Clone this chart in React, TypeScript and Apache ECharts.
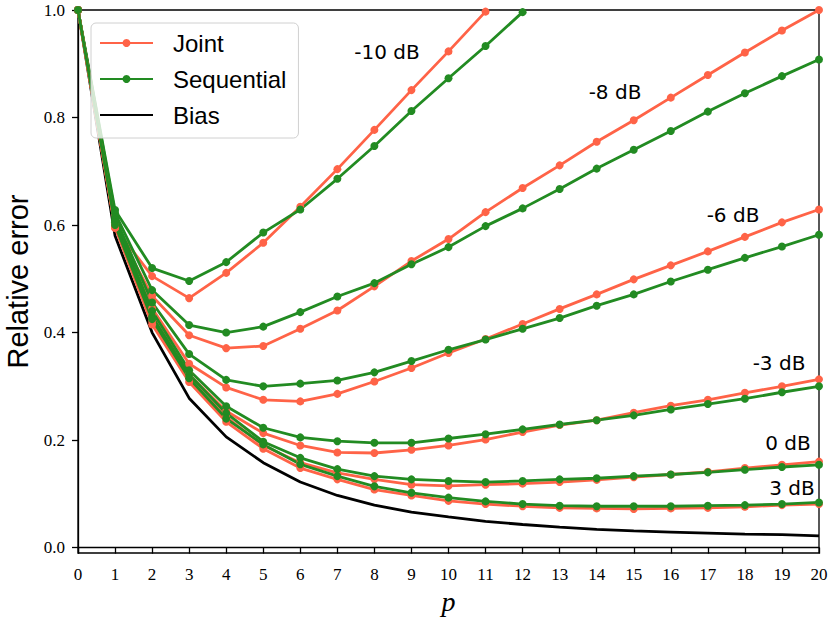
import React, { useEffect, useRef } from "react";
import * as echarts from "echarts";

const P = [0, 1, 2, 3, 4, 5, 6, 7, 8, 9, 10, 11, 12, 13, 14, 15, 16, 17, 18, 19, 20];

const bias = [1.0, 0.58, 0.40, 0.278, 0.206, 0.158, 0.122, 0.097, 0.079, 0.066, 0.057, 0.049, 0.043, 0.038, 0.034, 0.031, 0.029, 0.027, 0.025, 0.024, 0.022];

const jointM10 = [1.0, 0.595, 0.505, 0.464, 0.511, 0.567, 0.634, 0.704, 0.777, 0.851, 0.923, 0.997];
const seqM10 = [1.0, 0.628, 0.520, 0.496, 0.531, 0.586, 0.629, 0.686, 0.747, 0.812, 0.873, 0.933, 0.996];

const jointM8 = [1.0, 0.598, 0.468, 0.395, 0.371, 0.375, 0.407, 0.441, 0.486, 0.533, 0.574, 0.624, 0.669, 0.711, 0.755, 0.795, 0.837, 0.879, 0.921, 0.962, 1.0];
const seqM8 = [1.0, 0.622, 0.479, 0.414, 0.400, 0.411, 0.438, 0.467, 0.492, 0.527, 0.559, 0.598, 0.631, 0.667, 0.705, 0.740, 0.775, 0.811, 0.845, 0.877, 0.908];

const jointM6 = [1.0, 0.600, 0.445, 0.342, 0.298, 0.275, 0.272, 0.286, 0.309, 0.334, 0.362, 0.388, 0.416, 0.444, 0.471, 0.499, 0.525, 0.551, 0.578, 0.605, 0.629];
const seqM6 = [1.0, 0.615, 0.456, 0.360, 0.312, 0.300, 0.305, 0.311, 0.326, 0.347, 0.368, 0.387, 0.407, 0.427, 0.450, 0.471, 0.495, 0.517, 0.539, 0.560, 0.582];

const jointM3 = [1.0, 0.600, 0.432, 0.322, 0.254, 0.213, 0.190, 0.177, 0.176, 0.182, 0.190, 0.201, 0.215, 0.228, 0.237, 0.251, 0.264, 0.275, 0.288, 0.300, 0.313];
const seqM3 = [1.0, 0.610, 0.440, 0.330, 0.263, 0.223, 0.205, 0.198, 0.195, 0.195, 0.203, 0.211, 0.220, 0.229, 0.237, 0.246, 0.257, 0.267, 0.277, 0.289, 0.300];

const joint0 = [1.0, 0.598, 0.422, 0.315, 0.243, 0.190, 0.158, 0.139, 0.127, 0.117, 0.115, 0.117, 0.119, 0.122, 0.126, 0.131, 0.136, 0.141, 0.148, 0.154, 0.160];
const seq0 = [1.0, 0.605, 0.430, 0.322, 0.250, 0.197, 0.167, 0.146, 0.133, 0.127, 0.124, 0.122, 0.124, 0.127, 0.129, 0.133, 0.136, 0.140, 0.145, 0.150, 0.154];

const joint3 = [1.0, 0.595, 0.415, 0.308, 0.234, 0.184, 0.148, 0.127, 0.108, 0.097, 0.087, 0.081, 0.077, 0.074, 0.073, 0.072, 0.073, 0.074, 0.076, 0.079, 0.081];
const seq3 = [1.0, 0.600, 0.425, 0.315, 0.240, 0.192, 0.155, 0.133, 0.114, 0.102, 0.093, 0.086, 0.081, 0.078, 0.077, 0.077, 0.077, 0.078, 0.079, 0.081, 0.084];

const Y_TICKS = [0, 0.2, 0.4, 0.6, 0.8, 1.0];
const SNR_LABELS = ["-10 dB", "-8 dB", "-6 dB", "-3 dB", "0 dB", "3 dB"];
const JOINT = [jointM10, jointM8, jointM6, jointM3, joint0, joint3];
const SEQ = [seqM10, seqM8, seqM6, seqM3, seq0, seq3];

const ORANGE = "#ff6347";
const GREEN = "#228b22";

// annotation placement (pixels)
const LABEL_POS: [number, number][] = [
  [387, 52],
  [615, 92],
  [733, 215],
  [779, 363],
  [788, 443],
  [792, 488],
];

export default function App() {
  const ref = useRef<HTMLDivElement>(null);

  useEffect(() => {
    if (!ref.current) return;
    const chart = echarts.init(ref.current, null, { renderer: "svg" });

    const pairs = (arr: number[]) => arr.map((v, i) => [P[i], v]);

    const series: any[] = [];
    series.push({
      name: "Bias",
      type: "line",
      data: pairs(bias),
      symbol: "none",
      lineStyle: { color: "#000", width: 2.8 },
      itemStyle: { color: "#000" },
      z: 2,
    });
    for (let k = 0; k < JOINT.length; k++) {
      series.push({
        name: "Joint",
        type: "line",
        data: pairs(JOINT[k]),
        symbol: "circle",
        symbolSize: 8,
        lineStyle: { color: ORANGE, width: 2.8 },
        itemStyle: { color: ORANGE },
        z: 3,
      });
      series.push({
        name: "Sequential",
        type: "line",
        data: pairs(SEQ[k]),
        symbol: "circle",
        symbolSize: 8,
        lineStyle: { color: GREEN, width: 2.8 },
        itemStyle: { color: GREEN },
        z: 3,
      });
    }

    chart.setOption({
      animation: false,
      backgroundColor: "#fff",
      grid: {
        left: 78,
        right: 11,
        top: 10,
        bottom: 64,
        outerBoundsMode: "none",
        containLabel: false,
        show: true,
        borderColor: "#000",
        borderWidth: 1.3,
        backgroundColor: "transparent",
      },
      legend: {
        data: ["Joint", "Sequential", { name: "Bias", itemStyle: { opacity: 0 } }],
        orient: "vertical",
        left: 91,
        top: 23,
        itemWidth: 53,
        itemHeight: 10,
        itemGap: 12,
        padding: [8, 12, 11, 8],
        backgroundColor: "rgba(255,255,255,0.8)",
        borderColor: "#d0d0d0",
        borderWidth: 1,
        borderRadius: 5,
        textStyle: {
          fontFamily: "Liberation Sans",
          fontSize: 24,
          color: "#000",
          lineHeight: 24,
          padding: [0, 0, 0, 15],
        },
      },
      xAxis: {
        type: "value",
        min: 0,
        max: 20,
        interval: 1,
        name: "p",
        nameLocation: "middle",
        nameGap: 34,
        nameTextStyle: {
          fontFamily: "Liberation Serif",
          fontStyle: "italic",
          fontSize: 28,
          color: "#000",
        },
        axisLine: { show: true, lineStyle: { color: "#000", width: 1.3 } },
        axisTick: { show: true, length: 6, lineStyle: { color: "#000", width: 1.3 } },
        axisLabel: {
          fontFamily: "Liberation Serif",
          fontSize: 17,
          color: "#000",
          margin: 13,
        },
        splitLine: { show: false },
      },
      yAxis: {
        type: "value",
        min: -0.01,
        max: 1.0,
        name: "Relative error",
        nameLocation: "middle",
        nameGap: 46,
        nameTextStyle: {
          fontFamily: "Liberation Sans",
          fontSize: 29,
          color: "#000",
        },
        axisLine: { show: true, lineStyle: { color: "#000", width: 1.3 } },
        axisTick: {
          show: true,
          length: 6,
          customValues: Y_TICKS,
          lineStyle: { color: "#000", width: 1.3 },
        },
        axisLabel: {
          customValues: Y_TICKS,
          fontFamily: "Liberation Serif",
          fontSize: 17,
          color: "#000",
          margin: 13,
          formatter: (v: number) => v.toFixed(1),
        },
        splitLine: { show: false },
      },
      graphic: SNR_LABELS.map((t, i) => ({
        type: "text",
        x: LABEL_POS[i][0],
        y: LABEL_POS[i][1],
        z: 10,
        style: {
          text: t,
          fontFamily: "DejaVu Sans",
          fontSize: 20,
          fill: "#000",
          align: "center",
          verticalAlign: "middle",
        },
      })),
      series,
    });

    return () => chart.dispose();
  }, []);

  return (
    <div
      ref={ref}
      style={{ position: "fixed", left: 0, top: 0, width: 830, height: 617 }}
    />
  );
}
